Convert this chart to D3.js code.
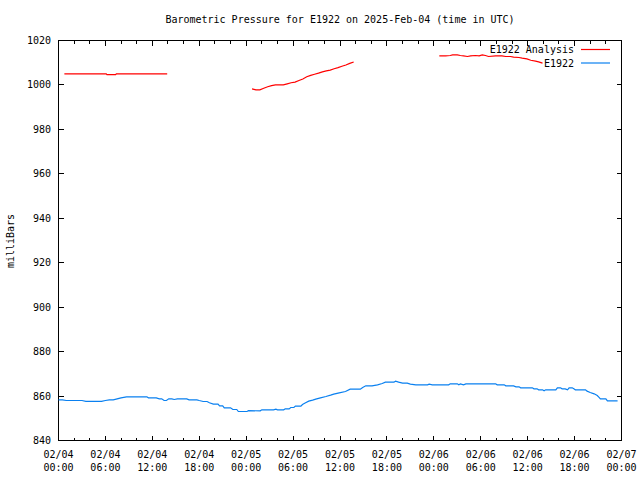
<!DOCTYPE html>
<html><head><meta charset="utf-8">
<script src="https://cdn.jsdelivr.net/npm/d3@7"></script>
<style>body{margin:0;background:#fff}svg{display:block}text{font-family:"DejaVu Sans Mono",monospace;font-size:10px;fill:#000}</style>
</head><body><svg id="c" width="640" height="480"></svg>
<script>
const title = "Barometric Pressure for E1922 on 2025-Feb-04 (time in UTC)";
const yLabel = "milliBars";
const yTicks = [840, 860, 880, 900, 920, 940, 960, 980, 1000, 1020];
const xTickHours = [0, 6, 12, 18, 24, 30, 36, 42, 48, 54, 60, 66, 72];
const xTickDates = ["02/04","02/04","02/04","02/04","02/05","02/05","02/05","02/05","02/06","02/06","02/06","02/06","02/07"];
const xTickTimes = ["00:00","06:00","12:00","18:00","00:00","06:00","12:00","18:00","00:00","06:00","12:00","18:00","00:00"];
const seriesNames = ["E1922 Analysis", "E1922"];

// E1922 observed (hours since 02/04 00:00 UTC, mb)
const obsHours = [0,0.5,1,2,3,3.5,4.5,5.5,6,6.5,7,7.5,8,8.7,10,11.3,11.5,12.5,12.9,13.2,13.5,13.8,14.1,14.5,14.8,15.2,16.4,16.7,17.7,18,18.5,19,19.3,19.8,20.4,20.6,21,21.2,22,22.3,22.8,23,24.1,24.3,25.8,26,27.5,27.8,28,28.8,29,29.5,29.7,30.1,30.3,31,31.2,31.6,32,32.5,32.9,33.5,34.2,34.8,35.2,35.9,36.7,37.3,38.6,38.9,39.3,40.1,40.8,41.4,41.8,42.9,43.1,43.5,44,44.6,45,45.7,47.2,47.4,47.8,49.9,50.1,51,51.2,51.4,51.8,52.1,55.9,56.1,57,57.2,58.2,58.5,58.9,59.1,60.6,60.8,61.2,61.4,61.9,62.1,62.3,63.6,63.8,64.2,64.4,64.8,65.1,65.3,65.7,65.9,66.1,67.4,67.6,68,68.5,68.9,69.1,69.3,70,70.2,71.5];
const obsValues = [858.3,858.3,858.0,858.0,858.0,857.6,857.6,857.6,858.0,858.3,858.3,858.75,859.2,859.65,859.65,859.65,859.2,859.2,858.75,858.75,858.0,858.0,858.75,858.75,858.45,858.75,858.75,858.3,858.3,858.0,857.55,857.55,857.0,856.4,856.4,855.6,855.6,854.7,854.7,853.95,853.95,853.05,853.05,853.4,853.35,853.8,853.8,854.1,853.8,853.8,854.25,854.25,854.85,854.85,855.45,855.45,856.2,856.95,857.7,858.15,858.6,859.2,859.8,860.4,860.85,861.45,862.05,863.1,863.1,863.85,864.6,864.6,865.05,865.65,866.25,866.25,866.7,866.25,865.8,865.8,865.4,865.05,865.05,865.35,865.05,865.05,865.5,865.5,865.05,865.5,865.05,865.5,865.5,865.05,865.05,864.6,864.6,864.15,864.15,863.7,863.7,863.25,863.25,862.8,862.8,862.35,862.8,862.8,863.7,863.7,863.25,863.25,862.8,863.7,863.7,863.25,862.8,862.8,862.2,861.6,861.0,860.25,859.5,858.75,858.75,857.85,857.85];

// E1922 Analysis, three separate segments
const anaHours1 = [0.75,6.1,6.2,7.3,7.4,13.9];
const anaValues1 = [1005,1005,1004.6,1004.6,1005,1005];
const anaHours2 = [24.75,25.25,25.75,26.25,26.75,27.25,27.75,28.25,28.75,29.25,29.75,30.25,30.75,31.25,31.75,32.25,32.75,33.25,33.75,34.25,34.75,35.25,35.75,36.25,36.75,37.25,37.75];
const anaValues2 = [998.2,997.8,997.8,998.5,999.2,999.7,1000.0,1000.0,1000.0,1000.5,1001.0,1001.3,1002.0,1002.7,1003.7,1004.3,1004.8,1005.3,1005.9,1006.3,1006.7,1007.3,1007.8,1008.4,1009.0,1009.7,1010.3];
const anaHours3 = [48.7,49.5,50.1,50.4,51.0,51.4,51.8,52.3,52.7,53.3,53.8,54.2,54.6,55.0,55.9,56.7,57.2,57.8,58.2,58.9,59.3,59.9,60.4,61.0,61.4,61.9];
const anaValues3 = [1013.1,1013.1,1013.25,1013.55,1013.5,1013.25,1013.1,1012.8,1013.1,1013.25,1013.1,1013.55,1013.25,1012.8,1013.1,1013.1,1012.8,1012.8,1012.5,1012.35,1012.05,1011.75,1011.1,1010.7,1010.4,1009.8];

const colors = ["#ff0000", "#0a80f0"];
const L = 58.5, R = 621.5, T = 40.5, B = 440.5;
const svg = d3.select("#c");
const x = d3.scaleLinear().domain([0, 72]).range([L, R]);
const y = d3.scaleLinear().domain([840, 1020]).range([B, T]);
const minorHours = d3.range(0, 73, 2);

svg.append("text").attr("x", (L+R)/2).attr("y", 23).attr("text-anchor","middle").text(title);

const g = svg.append("g").attr("shape-rendering","crispEdges");
// ticks
const tick = (x1,y1,x2,y2) => g.append("line").attr("x1",x1).attr("y1",y1).attr("x2",x2).attr("y2",y2).attr("stroke","#000");
minorHours.forEach(h => {
  const len = (h % 6 === 0) ? 5 : 3;
  tick(x(h), B, x(h), B - len);
  tick(x(h), T, x(h), T + len);
});
yTicks.forEach(v => {
  tick(L, y(v), L + 5, y(v));
  tick(R, y(v), R - 5, y(v));
  svg.append("text").attr("x", 51).attr("y", y(v) + 3.5).attr("text-anchor","end").text(v);
});
xTickHours.forEach((h,i) => {
  svg.append("text").attr("x", x(h)).attr("y", 458).attr("text-anchor","middle").text(xTickDates[i]);
  svg.append("text").attr("x", x(h)).attr("y", 471).attr("text-anchor","middle").text(xTickTimes[i]);
});
g.append("rect").attr("x", L).attr("y", T).attr("width", R-L).attr("height", B-T).attr("fill","none").attr("stroke","#000");

svg.append("text").attr("transform","translate(14,241) rotate(-90)").attr("text-anchor","middle").text(yLabel);

const line = d3.line().x(d => x(d[0])).y(d => y(d[1]));
const zip = (a,b) => a.map((h,i) => [h, b[i]]);
[[anaHours1,anaValues1],[anaHours2,anaValues2],[anaHours3,anaValues3]].forEach(([h,v]) => {
  svg.append("path").attr("d", line(zip(h,v))).attr("fill","none").attr("stroke", colors[0]).attr("stroke-width",1.2);
});
svg.append("path").attr("d", line(zip(obsHours,obsValues))).attr("fill","none").attr("stroke", colors[1]).attr("stroke-width",1.2);

// legend
seriesNames.forEach((n,i) => {
  const ly = 49.5 + i*13.5;
  svg.append("text").attr("x", 574).attr("y", ly + 3.5).attr("text-anchor","end").text(n);
  svg.append("line").attr("x1",581).attr("x2",610).attr("y1",ly).attr("y2",ly).attr("stroke",colors[i]).attr("stroke-width",1.2);
});
</script></body></html>
